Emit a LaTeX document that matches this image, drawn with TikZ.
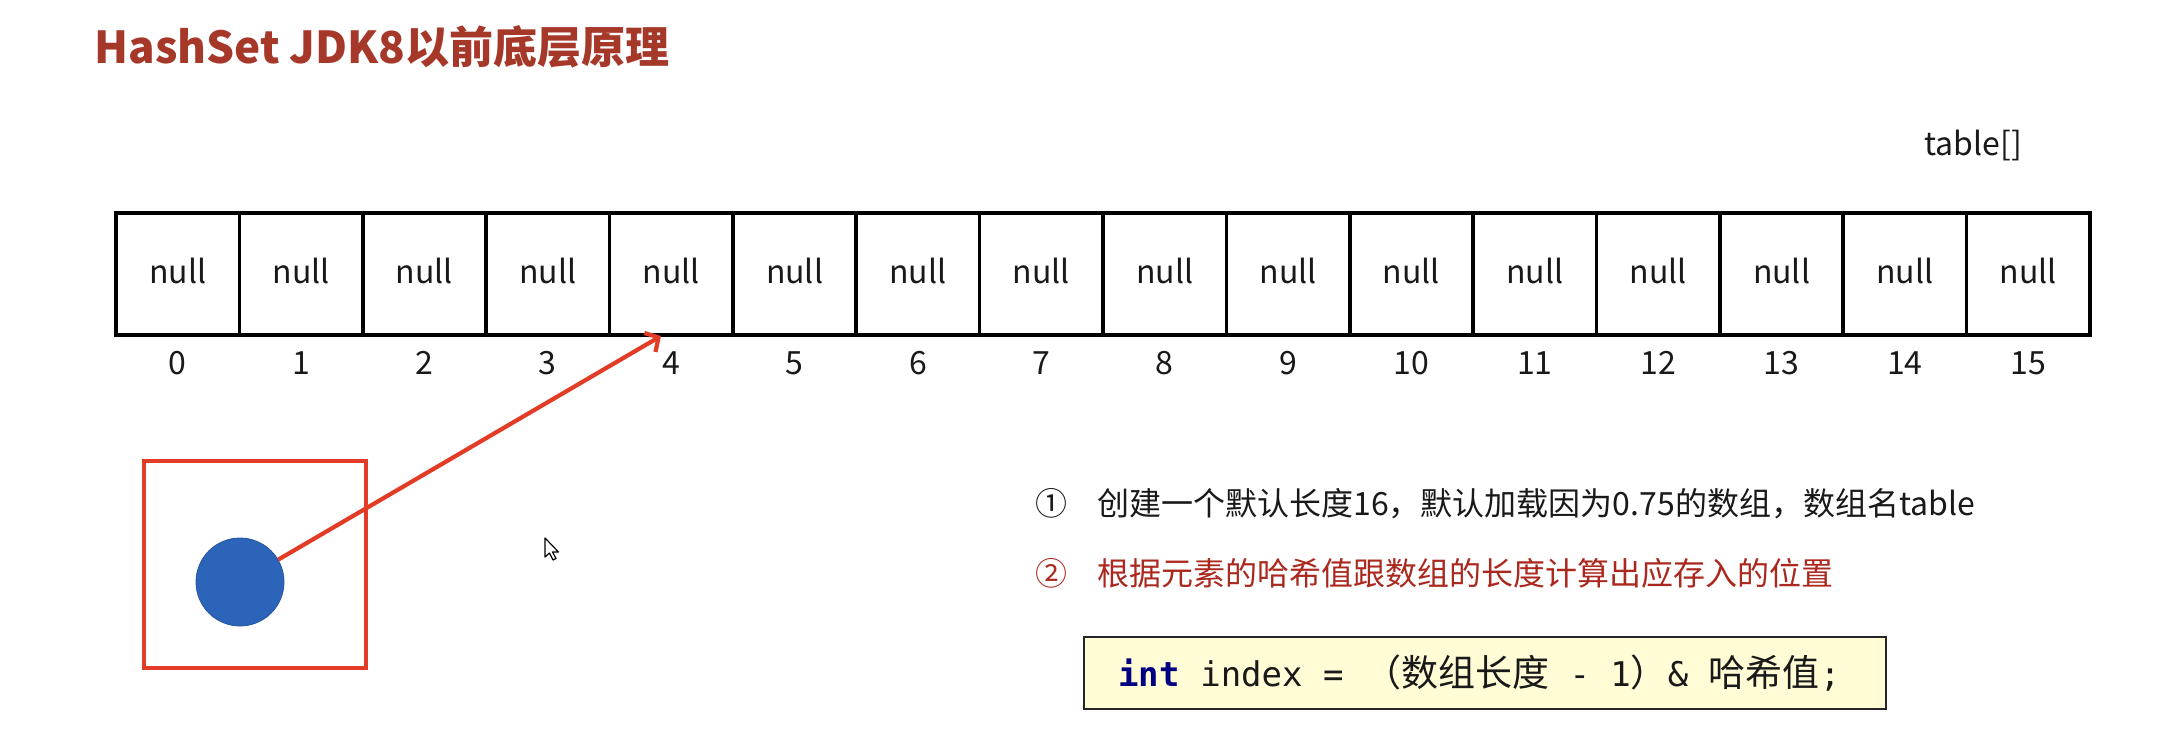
\documentclass[tikz,border=0pt]{standalone}
\usepackage{fontspec}
\setmainfont{Noto Sans CJK SC}
\newfontfamily\cjkf{Noto Sans CJK SC}
\newfontfamily\monof{DejaVu Sans Mono}
\usetikzlibrary{arrows.meta,calc}
\definecolor{titlered}{RGB}{166,56,42}
\definecolor{stepred}{RGB}{170,40,30}
\definecolor{boxred}{RGB}{226,60,38}
\definecolor{dotblue}{RGB}{44,100,186}
\definecolor{codefill}{RGB}{255,252,214}
\definecolor{kwnavy}{RGB}{0,0,128}
\definecolor{txt}{RGB}{25,25,25}
\tikzset{
  cell/.style={draw=black, line width=1.8pt, minimum width=61.7pt, minimum height=61pt, inner sep=0pt, outer sep=0pt, text depth=3pt, font=\fontsize{16pt}{18pt}\selectfont, text=txt},
  idx/.style={inner sep=0pt, font=\fontsize{16pt}{18pt}\selectfont, text=txt},
  plain/.style={inner sep=0pt, font=\fontsize{16pt}{18pt}\selectfont, text=txt},
  redbox/.style={draw=boxred, line width=2pt, minimum width=111pt, minimum height=103.5pt, inner sep=0pt},
  blobdot/.style={circle, fill=dotblue, draw=dotblue!85!black, line width=0.4pt, minimum size=44pt, inner sep=0pt},
  redarrow/.style={draw=boxred, line width=2.1pt, -{Straight Barb[length=5pt,width=11pt,line width=2.1pt]}},
  codebox/.style={draw=black!85, line width=1pt, fill=codefill, minimum width=401pt, minimum height=36pt, inner sep=0pt},
  cursorshape/.style={fill=white, draw=black, line width=0.6pt, line join=round}
}
\begin{document}
\begin{tikzpicture}[x=0.5pt,y=-0.5pt]
\useasboundingbox (0,0) rectangle (2172,737);
% title
\node[anchor=base west, inner sep=0pt, text=titlered, font=\fontsize{22pt}{26pt}\selectfont\bfseries] (title) at (94,64) {HashSet JDK8以前底层原理};
% array label
\node[plain, anchor=west] (tlabel) at (1924,145) {table[]};
% cells
\foreach \i in {0,...,15}{
  \pgfmathsetmacro\cx{116+(\i+0.5)*123.375}
  \node[cell] (c\i) at (\cx,274) {null};
  \node[idx] (n\i) at (\cx,363) {\i};
}
% red box and dot
\node[redbox] (box) at (255,564.5) {};
\node[blobdot] (dot) at (240,582) {};
\coordinate (t4) at (661,336);
\draw[redarrow] (dot) -- (t4);
% mouse cursor
\draw[cursorshape] (545,538) -- ++(0,19) -- ++(4.5,-4) -- ++(3.5,7) -- ++(3,-1.5) -- ++(-3.5,-6.5) -- ++(6,0) -- cycle;
% steps
\node[plain, anchor=west] (s1) at (1035,504) {①\hspace{15pt}创建一个默认长度16，默认加载因为0.75的数组，数组名table};
\node[plain, anchor=west, text=stepred] (s2) at (1035,573) {②\hspace{15pt}根据元素的哈希值跟数组的长度计算出应存入的位置};
% code box
\node[codebox] (code) at (1485,673) {};
\node[anchor=west, inner sep=0pt, text=txt, font=\fontsize{17pt}{19pt}\selectfont] (codetext) at (1118,673) {{\monof\bfseries\color{kwnavy}int}{\monof{} index = }{\cjkf\fontsize{18.5pt}{20pt}\selectfont （数组长度}{\monof{} - 1}{\cjkf\fontsize{18.5pt}{20pt}\selectfont ）}{\monof\& }{\cjkf\fontsize{18.5pt}{20pt}\selectfont 哈希值}{\monof;}};
\end{tikzpicture}
\end{document}
